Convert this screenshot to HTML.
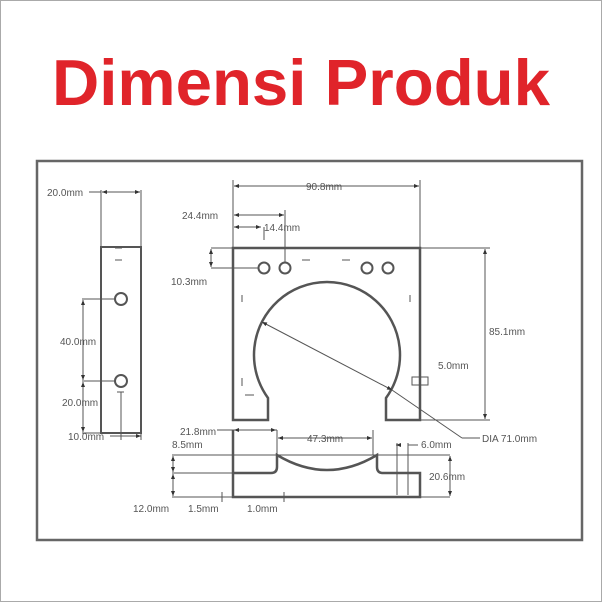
<!DOCTYPE html>
<html><head><meta charset="utf-8"><style>
html,body{margin:0;padding:0;background:#fff;}
svg{display:block;}
</style></head><body>
<svg width="602" height="602" viewBox="0 0 602 602" xmlns="http://www.w3.org/2000/svg">
<defs>
<marker id="a" viewBox="0 0 10 10" refX="10" refY="5" markerWidth="6" markerHeight="5" orient="auto-start-reverse"><path d="M0,1 L10,5 L0,9z" fill="#333"/></marker>
</defs>
<rect x="0.5" y="0.5" width="601" height="601" fill="#fff" stroke="#aaa"/>
<text x="301" y="105" text-anchor="middle" font-family="Liberation Sans, sans-serif" font-weight="bold" font-size="65" textLength="498" lengthAdjust="spacingAndGlyphs" fill="#e0242a">Dimensi Produk</text>
<rect x="37" y="161" width="545" height="379" fill="#fff" stroke="#666" stroke-width="2.5"/>
<g font-family="Liberation Sans, sans-serif" font-size="10" fill="#555">
<g stroke="#555" stroke-width="1" fill="none">
<rect x="101" y="247" width="40" height="186" stroke-width="2"/>
<line x1="115" y1="248" x2="122" y2="248"/><line x1="115" y1="260" x2="122" y2="260"/><line x1="117" y1="392" x2="124" y2="392"/>
<circle cx="121" cy="299" r="6" stroke-width="2"/>
<circle cx="121" cy="381" r="6" stroke-width="2"/>
<line x1="101" y1="190" x2="101" y2="247"/><line x1="141" y1="190" x2="141" y2="247"/>
<line x1="102" y1="192" x2="140" y2="192" marker-start="url(#a)" marker-end="url(#a)"/>
<line x1="89" y1="192" x2="101" y2="192"/>
<line x1="82" y1="299" x2="115" y2="299"/><line x1="82" y1="381" x2="115" y2="381"/><line x1="82" y1="433" x2="101" y2="433"/>
<line x1="83" y1="300" x2="83" y2="380" marker-start="url(#a)" marker-end="url(#a)"/>
<line x1="83" y1="382" x2="83" y2="432" marker-start="url(#a)" marker-end="url(#a)"/>
<line x1="121" y1="392" x2="121" y2="440"/><line x1="141" y1="433" x2="141" y2="440"/>
<line x1="110" y1="436" x2="141" y2="436" marker-end="url(#a)"/>
<path d="M233,420 V248 H420 V420 H386 V398 A73,73 0 1 0 268,398 V420 Z" stroke-width="2.5"/>
<circle cx="264" cy="268" r="5.5" stroke-width="2"/><circle cx="285" cy="268" r="5.5" stroke-width="2"/>
<circle cx="367" cy="268" r="5.5" stroke-width="2"/><circle cx="388" cy="268" r="5.5" stroke-width="2"/>
<line x1="302" y1="260" x2="310" y2="260"/><line x1="342" y1="260" x2="350" y2="260"/>
<line x1="242" y1="295" x2="242" y2="302"/><line x1="410" y1="295" x2="410" y2="302"/>
<line x1="242" y1="378" x2="242" y2="386"/><line x1="245" y1="395" x2="254" y2="395"/>
<line x1="233" y1="180" x2="233" y2="248"/><line x1="420" y1="180" x2="420" y2="248"/>
<line x1="234" y1="186" x2="419" y2="186" marker-start="url(#a)" marker-end="url(#a)"/>
<line x1="285" y1="210" x2="285" y2="262"/>
<line x1="234" y1="215" x2="284" y2="215" marker-start="url(#a)" marker-end="url(#a)"/>
<line x1="234" y1="227" x2="261" y2="227" marker-start="url(#a)" marker-end="url(#a)"/>
<line x1="264" y1="227" x2="264" y2="240"/>
<line x1="400" y1="248" x2="490" y2="248"/><line x1="420" y1="420" x2="490" y2="420"/>
<line x1="485" y1="249" x2="485" y2="419" marker-start="url(#a)" marker-end="url(#a)"/>
<line x1="211" y1="248" x2="233" y2="248"/><line x1="211" y1="268" x2="258" y2="268"/>
<line x1="211" y1="249" x2="211" y2="267" marker-start="url(#a)" marker-end="url(#a)"/>
<line x1="262" y1="322" x2="392" y2="390" marker-start="url(#a)" marker-end="url(#a)"/>
<line x1="392" y1="390" x2="462" y2="438"/><line x1="462" y1="438" x2="480" y2="438"/>
<rect x="412" y="377" width="16" height="8"/>
<line x1="217" y1="430" x2="277" y2="430"/>
<line x1="234" y1="430" x2="276" y2="430" marker-start="url(#a)" marker-end="url(#a)"/>
<path d="M233,430 V497 H420 V473 H383 Q377,473 377,467 V455 Q327,485 277,455 V467 Q277,473 271,473 H233" stroke-width="2.5"/>
<line x1="172" y1="455" x2="450" y2="455"/><line x1="172" y1="473" x2="233" y2="473"/>
<line x1="172" y1="497" x2="233" y2="497"/>
<line x1="277" y1="430" x2="277" y2="455"/><line x1="373" y1="430" x2="373" y2="455"/>
<line x1="278" y1="438" x2="372" y2="438" marker-start="url(#a)" marker-end="url(#a)"/>
<line x1="397" y1="443" x2="397" y2="495"/><line x1="408" y1="443" x2="408" y2="495"/>
<line x1="400" y1="445" x2="396" y2="445" marker-end="url(#a)"/><line x1="408" y1="445" x2="418" y2="445"/>
<line x1="420" y1="497" x2="450" y2="497"/>
<line x1="450" y1="456" x2="450" y2="496" marker-start="url(#a)" marker-end="url(#a)"/>
<line x1="173" y1="456" x2="173" y2="472" marker-start="url(#a)" marker-end="url(#a)"/>
<line x1="173" y1="474" x2="173" y2="496" marker-start="url(#a)" marker-end="url(#a)"/>
<line x1="222" y1="492" x2="222" y2="502"/><line x1="284" y1="492" x2="284" y2="502"/>
</g>
<text x="47" y="196">20.0mm</text>
<text x="60" y="345">40.0mm</text>
<text x="62" y="406">20.0mm</text>
<text x="68" y="440">10.0mm</text>
<text x="306" y="190">90.8mm</text>
<text x="182" y="219">24.4mm</text>
<text x="264" y="231">14.4mm</text>
<text x="171" y="285">10.3mm</text>
<text x="489" y="335">85.1mm</text>
<text x="438" y="369">5.0mm</text>
<text x="482" y="442">DIA 71.0mm</text>
<text x="180" y="435">21.8mm</text>
<text x="172" y="448">8.5mm</text>
<text x="307" y="442">47.3mm</text>
<text x="421" y="448">6.0mm</text>
<text x="429" y="480">20.6mm</text>
<text x="133" y="512">12.0mm</text>
<text x="188" y="512">1.5mm</text>
<text x="247" y="512">1.0mm</text>
</g>
</svg>
</body></html>
